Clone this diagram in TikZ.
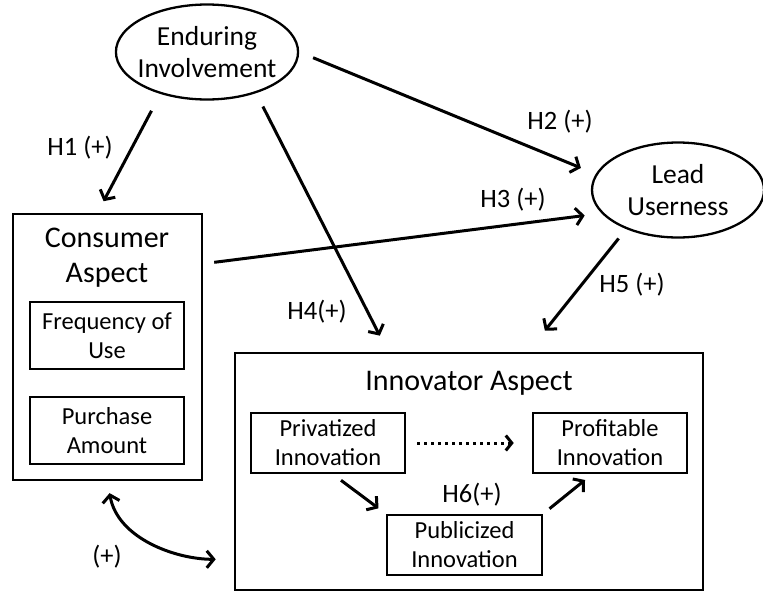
\documentclass[tikz,border=0pt]{standalone}
\usepackage{fontspec}
\setmainfont{Carlito}
\usetikzlibrary{shapes.geometric,arrows.meta,positioning}

\begin{document}
\begin{tikzpicture}[x=1pt, y=-1pt,
    construct/.style={ellipse, draw, line width=2.3pt, inner sep=-5pt,
        minimum width=180pt, minimum height=95pt, align=center,
        font=\fontsize{27.5}{32}\selectfont},
    aspect/.style={rectangle, draw, line width=2.6pt, inner sep=0pt},
    dimbox/.style={rectangle, draw, line width=2.6pt, align=center, inner sep=0pt,
        minimum width=154pt, font=\fontsize{24.5}{29}\selectfont},
    heading/.style={align=center, font=\fontsize{30}{35}\selectfont},
    hyp/.style={font=\fontsize{26.5}{31}\selectfont},
    arr/.style={-{Straight Barb[length=7pt,width=17pt]}, line width=3pt},
    biarr/.style={{Straight Barb[length=7pt,width=17pt]}-{Straight Barb[length=7pt,width=17pt]}, line width=3pt},
    dotarr/.style={-{Straight Barb[length=6pt,width=15pt]}, line width=3pt, dash pattern=on 3pt off 4pt}
]
    \useasboundingbox (0,0) rectangle (763,592);

    % constructs
    \node[construct] (ei) at (207,52) {Enduring\\Involvement};
    \node[construct, minimum width=172pt] (lu) at (678,190) {Lead\\Userness};

    % consumer side
    \node[aspect, minimum width=189pt, minimum height=266pt] (cons) at (107.5,347) {};
    \node[heading] (constitle) at (107,258) {Consumer\\Aspect};
    \node[dimbox, minimum height=67pt] (freq) at (107,335.5) {Frequency of\\Use};
    \node[dimbox, minimum height=67pt] (purch) at (107,430.5) {Purchase\\Amount};

    % innovator side
    \node[aspect, minimum width=468pt, minimum height=237pt] (inno) at (469,471.5) {};
    \node[heading] (innotitle) at (469,383) {Innovator Aspect};
    \node[dimbox, minimum height=60pt] (priv) at (328,443) {Privatized\\Innovation};
    \node[dimbox, minimum height=60pt] (prof) at (610,443) {Profitable\\Innovation};
    \node[dimbox, minimum height=60pt, minimum width=155pt] (publ) at (464.5,545) {Publicized\\Innovation};

    % hypotheses
    \node[hyp] (h1) at (80,148) {H1 (+)};
    \node[hyp] (h2) at (560,122) {H2 (+)};
    \node[hyp] (h3) at (513,200) {H3 (+)};
    \node[hyp] (h4) at (317,312) {H4(+)};
    \node[hyp] (h5) at (632,285) {H5 (+)};
    \node[hyp] (h6) at (472,495) {H6(+)};
    \node[hyp] (corr) at (107,557) {(+)};

    \draw[arr, shorten <=19pt, shorten >=13pt] (ei.222) -- ([xshift=-10pt]cons.north);
    \draw[arr, shorten <=15pt, shorten >=16pt] (ei.east) -- (lu.169);
    \draw[arr, shorten <=11pt, shorten >=17pt] ([yshift=-51pt]cons.north east) -- (lu.197);
    \draw[arr, shorten <=15pt, shorten >=18pt] (ei.320) -- ([xshift=-81pt]inno.north);
    \draw[arr, shorten <=12pt, shorten >=27pt] (lu.217) -- ([xshift=59pt]inno.north);

    \draw[dotarr, shorten <=11pt, shorten >=18pt] (priv.east) -- (prof.west);
    \draw[arr, shorten <=10pt, shorten >=9pt] ([xshift=5pt]priv.south) -- (publ.north west);
    \draw[arr, shorten <=8pt, shorten >=9pt] (publ.north east) -- ([xshift=-18pt]prof.south);

    \draw[biarr, shorten <=12pt, shorten >=18pt] (cons.south) to[out=-80, in=180] ([yshift=32pt]inno.south west);
\end{tikzpicture}
\end{document}
